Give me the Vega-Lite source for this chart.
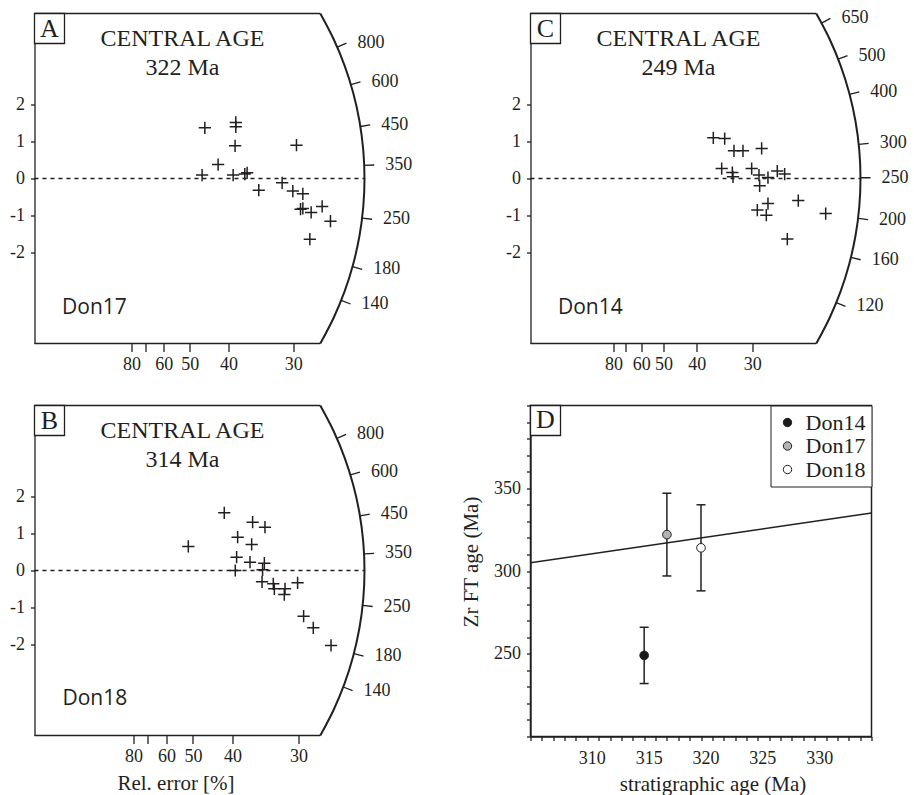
{
  "$schema": "https://vega.github.io/schema/vega-lite/v6.json",
  "background": "white",
  "padding": {"left": 9.5, "top": 8.5, "right": 0, "bottom": 0},
  "columns": 2,
  "spacing": {"row": 62, "column": 166},
  "bounds": "flush",
  "align": "each",
  "resolve": {"legend": {"fill": "independent"}},
  "datasets": {
    "A_pts": [
      {"x": 2.195, "y": 1.37}, {"x": 2.594, "y": 1.514}, {"x": 2.594, "y": 1.397}, {"x": 2.585, "y": 0.884},
      {"x": 3.376, "y": 0.902}, {"x": 2.366, "y": 0.378}, {"x": 2.16, "y": 0.092}, {"x": 2.56, "y": 0.092},
      {"x": 2.74, "y": 0.154}, {"x": 2.71, "y": 0.119}, {"x": 2.89, "y": -0.315}, {"x": 3.191, "y": -0.116},
      {"x": 3.329, "y": -0.341}, {"x": 3.458, "y": -0.414}, {"x": 3.458, "y": -0.81}, {"x": 3.428, "y": -0.828},
      {"x": 3.565, "y": -0.918}, {"x": 3.707, "y": -0.756}, {"x": 3.814, "y": -1.153}, {"x": 3.548, "y": -1.639}
    ],
    "A_arc": [
      {"i": 0, "x": 3.6829, "y": 4.4595}, {"i": 1, "x": 3.8541, "y": 3.7692}, {"i": 2, "x": 3.9961, "y": 3.0505},
      {"i": 3, "x": 4.1076, "y": 2.3084}, {"i": 4, "x": 4.188, "y": 1.5486}, {"i": 5, "x": 4.2363, "y": 0.7773},
      {"i": 6, "x": 4.2526, "y": 0}, {"i": 7, "x": 4.2363, "y": -0.7773}, {"i": 8, "x": 4.188, "y": -1.5486},
      {"i": 9, "x": 4.1076, "y": -2.3084}, {"i": 10, "x": 3.9961, "y": -3.0505}, {"i": 11, "x": 3.8541, "y": -3.7692},
      {"i": 12, "x": 3.6829, "y": -4.4595}
    ],
    "A_ticks": [
      {"age": 800, "x": 3.9012, "y": 3.5503, "x2": 4.0194, "y2": 3.6579},
      {"age": 600, "x": 4.0769, "y": 2.5373, "x2": 4.2004, "y2": 2.6142},
      {"age": 450, "x": 4.1994, "y": 1.4055, "x2": 4.3267, "y2": 1.4481},
      {"age": 350, "x": 4.2492, "y": 0.3543, "x2": 4.378, "y2": 0.3651},
      {"age": 250, "x": 4.222, "y": -1.0685, "x2": 4.3499, "y2": -1.1009},
      {"age": 180, "x": 4.098, "y": -2.3831, "x2": 4.2221, "y2": -2.4554},
      {"age": 140, "x": 3.9524, "y": -3.2917, "x2": 4.0722, "y2": -3.3914}
    ],
    "B_pts": [
      {"x": 2.396, "y": 1.559}, {"x": 1.942, "y": 0.649}, {"x": 2.754, "y": 1.306}, {"x": 2.91, "y": 1.171},
      {"x": 2.565, "y": 0.9}, {"x": 2.742, "y": 0.703}, {"x": 2.552, "y": 0.36}, {"x": 2.721, "y": 0.225},
      {"x": 2.902, "y": 0.198}, {"x": 2.88, "y": 0.018}, {"x": 2.535, "y": 0.0}, {"x": 2.873, "y": -0.306},
      {"x": 3.015, "y": -0.36}, {"x": 3.028, "y": -0.495}, {"x": 3.163, "y": -0.495}, {"x": 3.154, "y": -0.649},
      {"x": 3.322, "y": -0.333}, {"x": 3.398, "y": -1.234}, {"x": 3.52, "y": -1.55}, {"x": 3.744, "y": -2.027}
    ],
    "B_arc": [
      {"i": 0, "x": 3.6085, "y": 4.4595}, {"i": 1, "x": 3.7763, "y": 3.7692}, {"i": 2, "x": 3.9154, "y": 3.0505},
      {"i": 3, "x": 4.0246, "y": 2.3084}, {"i": 4, "x": 4.1034, "y": 1.5486}, {"i": 5, "x": 4.1508, "y": 0.7773},
      {"i": 6, "x": 4.1667, "y": 0}, {"i": 7, "x": 4.1508, "y": -0.7773}, {"i": 8, "x": 4.1034, "y": -1.5486},
      {"i": 9, "x": 4.0246, "y": -2.3084}, {"i": 10, "x": 3.9154, "y": -3.0505}, {"i": 11, "x": 3.7763, "y": -3.7692},
      {"i": 12, "x": 3.6085, "y": -4.4595}
    ],
    "B_ticks": [
      {"age": 800, "x": 3.8182, "y": 3.5708, "x2": 3.9339, "y2": 3.679},
      {"age": 600, "x": 3.9882, "y": 2.5825, "x2": 4.109, "y2": 2.6608},
      {"age": 450, "x": 4.109, "y": 1.4786, "x2": 4.2335, "y2": 1.5234},
      {"age": 350, "x": 4.1613, "y": 0.4517, "x2": 4.2874, "y2": 0.4654},
      {"age": 250, "x": 4.1432, "y": -0.9444, "x2": 4.2688, "y2": -0.973},
      {"age": 180, "x": 4.0327, "y": -2.2439, "x2": 4.1549, "y2": -2.3119},
      {"age": 140, "x": 3.8983, "y": -3.1489, "x2": 4.0164, "y2": -3.2443}
    ],
    "C_pts": [
      {"x": 2.749, "y": 1.1}, {"x": 2.92, "y": 1.081}, {"x": 3.06, "y": 0.749}, {"x": 3.195, "y": 0.749},
      {"x": 3.476, "y": 0.811}, {"x": 2.875, "y": 0.27}, {"x": 3.035, "y": 0.162}, {"x": 3.045, "y": 0.046},
      {"x": 3.326, "y": 0.27}, {"x": 3.436, "y": 0.092}, {"x": 3.571, "y": 0.027}, {"x": 3.711, "y": 0.2},
      {"x": 3.822, "y": 0.119}, {"x": 3.446, "y": -0.197}, {"x": 3.571, "y": -0.676}, {"x": 3.411, "y": -0.854},
      {"x": 3.546, "y": -0.99}, {"x": 4.027, "y": -0.595}, {"x": 4.439, "y": -0.946}, {"x": 3.862, "y": -1.638}
    ],
    "C_arc": [
      {"i": 0, "x": 4.2976, "y": 4.4595}, {"i": 1, "x": 4.4975, "y": 3.7692}, {"i": 2, "x": 4.6632, "y": 3.0505},
      {"i": 3, "x": 4.7932, "y": 2.3084}, {"i": 4, "x": 4.8871, "y": 1.5486}, {"i": 5, "x": 4.9435, "y": 0.7773},
      {"i": 6, "x": 4.9624, "y": 0}, {"i": 7, "x": 4.9435, "y": -0.7773}, {"i": 8, "x": 4.8871, "y": -1.5486},
      {"i": 9, "x": 4.7932, "y": -2.3084}, {"i": 10, "x": 4.6632, "y": -3.0505}, {"i": 11, "x": 4.4975, "y": -3.7692},
      {"i": 12, "x": 4.2976, "y": -4.4595}
    ],
    "C_ticks": [
      {"age": 650, "x": 4.3776, "y": 4.2005, "x2": 4.5103, "y2": 4.3277},
      {"age": 500, "x": 4.6265, "y": 3.2253, "x2": 4.7667, "y2": 3.3231},
      {"age": 400, "x": 4.7983, "y": 2.2744, "x2": 4.9438, "y2": 2.3433},
      {"age": 300, "x": 4.936, "y": 0.9197, "x2": 5.0855, "y2": 0.9476},
      {"age": 250, "x": 4.9624, "y": 0.0199, "x2": 5.1128, "y2": 0.0205},
      {"age": 200, "x": 4.9259, "y": -1.0794, "x2": 5.0752, "y2": -1.1121},
      {"age": 160, "x": 4.8187, "y": -2.1312, "x2": 4.9646, "y2": -2.1958},
      {"age": 120, "x": 4.5977, "y": -3.3563, "x2": 4.7369, "y2": -3.458}
    ],
    "D_pts": [
      {"sample": "Don14", "strat": 315, "age": 249, "lo": 232, "hi": 266},
      {"sample": "Don17", "strat": 317, "age": 322, "lo": 297, "hi": 347},
      {"sample": "Don18", "strat": 320, "age": 314, "lo": 288, "hi": 340}
    ],
    "D_line": [
      {"strat": 305, "age": 305},
      {"strat": 335, "age": 335}
    ]
  },
  "concat": [
    {
      "width": 330, "height": 330,
      "view": {"stroke": null},
      "layer": [
        {
          "data": {"name": "A_pts"},
          "mark": {"type": "point", "shape": "M-1,0L1,0M0,-1L0,1", "size": 150, "filled": false, "strokeWidth": 1.5, "color": "#231f20", "opacity": 1},
          "encoding": {
            "x": {"field": "x", "type": "quantitative", "scale": {"domain": [0, 4.25258], "nice": false, "zero": false},
              "axis": {"title": null, "values": [1.25, 1.428571, 1.666667, 2, 2.5, 3.333333], "tickCount": 50, "labelExpr": "datum.value > 1.4 && datum.value < 1.45 ? '' : format(100 / datum.value, '.0f')", "domain": false, "tickSize": 8, "labelPadding": 4, "labelOverlap": false}},
            "y": {"field": "y", "type": "quantitative", "scale": {"domain": [-4.4595, 4.4595], "nice": false, "zero": false},
              "axis": {"title": null, "values": [-2, -1, 0, 1, 2], "tickCount": 50, "labelExpr": "'' + datum.value", "tickSize": 4, "labelPadding": 6, "labelOverlap": false}}
          }
        },
        {
          "data": {"name": "A_arc"},
          "mark": {"type": "line", "strokeWidth": 2, "color": "#231f20", "interpolate": "catmull-rom"},
          "encoding": {"x": {"field": "x", "type": "quantitative"}, "y": {"field": "y", "type": "quantitative"}, "order": {"field": "i", "type": "quantitative"}}
        },
        {
          "data": {"name": "A_ticks"},
          "mark": {"type": "rule", "strokeWidth": 1.3, "color": "#231f20"},
          "encoding": {"x": {"field": "x", "type": "quantitative"}, "y": {"field": "y", "type": "quantitative"}, "x2": {"field": "x2"}, "y2": {"field": "y2"}}
        },
        {
          "data": {"name": "A_ticks"},
          "mark": {"type": "text", "align": "left", "baseline": "middle", "dx": 11, "fontSize": 18},
          "encoding": {"x": {"field": "x2", "type": "quantitative"}, "y": {"field": "y2", "type": "quantitative"}, "text": {"field": "age", "type": "nominal"}}
        },
        {
          "data": {"values": [{}]},
          "mark": {"type": "rule", "strokeDash": [4, 4], "strokeWidth": 1.3, "color": "#231f20"},
          "encoding": {"x": {"datum": 0}, "x2": {"datum": 4.25258}, "y": {"datum": 0}}
        },
        {
          "data": {"values": [{}]},
          "mark": {"type": "rule", "strokeWidth": 1.3, "color": "#231f20"},
          "encoding": {"x": {"datum": 0}, "x2": {"datum": 3.6829}, "y": {"datum": 4.4595}}
        },
        {
          "data": {"values": [{}]},
          "mark": {"type": "rule", "strokeWidth": 1.3, "color": "#231f20"},
          "encoding": {"x": {"datum": 0}, "x2": {"datum": 3.6829}, "y": {"datum": -4.4595}}
        },
        {
          "data": {"values": [{}]},
          "mark": {"type": "rect", "fill": "white", "stroke": "#231f20", "strokeWidth": 1.3},
          "encoding": {"x": {"datum": 0}, "x2": {"datum": 0.3866}, "y": {"datum": 4.4595}, "y2": {"datum": 3.6487}}
        },
        {
          "data": {"values": [{}]},
          "mark": {"type": "text", "text": "A", "fontSize": 26, "align": "center", "baseline": "middle"},
          "encoding": {"x": {"datum": 0.1933}, "y": {"datum": 4.054}}
        },
        {
          "data": {"values": [{}]},
          "mark": {"type": "text", "text": "CENTRAL AGE", "fontSize": 24, "align": "center", "baseline": "middle"},
          "encoding": {"x": {"datum": 1.9072}, "y": {"datum": 3.7568}}
        },
        {
          "data": {"values": [{}]},
          "mark": {"type": "text", "text": "322 Ma", "fontSize": 24, "align": "center", "baseline": "middle"},
          "encoding": {"x": {"datum": 1.9072}, "y": {"datum": 3.0}}
        },
        {
          "data": {"values": [{}]},
          "mark": {"type": "text", "text": "Don17", "font": "Open Sans", "fontSize": 21, "align": "left", "baseline": "middle"},
          "encoding": {"x": {"datum": 0.3557}, "y": {"datum": -3.495}}
        }
      ]
    },
    {
      "width": 330, "height": 330,
      "view": {"stroke": null},
      "layer": [
        {
          "data": {"name": "C_pts"},
          "mark": {"type": "point", "shape": "M-1,0L1,0M0,-1L0,1", "size": 150, "filled": false, "strokeWidth": 1.5, "color": "#231f20", "opacity": 1},
          "encoding": {
            "x": {"field": "x", "type": "quantitative", "scale": {"domain": [0, 4.96241], "nice": false, "zero": false},
              "axis": {"title": null, "values": [1.25, 1.428571, 1.666667, 2, 2.5, 3.333333], "tickCount": 50, "labelExpr": "datum.value > 1.4 && datum.value < 1.45 ? '' : format(100 / datum.value, '.0f')", "domain": false, "tickSize": 8, "labelPadding": 4, "labelOverlap": false}},
            "y": {"field": "y", "type": "quantitative", "scale": {"domain": [-4.4595, 4.4595], "nice": false, "zero": false},
              "axis": {"title": null, "values": [-2, -1, 0, 1, 2], "tickCount": 50, "labelExpr": "'' + datum.value", "tickSize": 4, "labelPadding": 6, "labelOverlap": false}}
          }
        },
        {
          "data": {"name": "C_arc"},
          "mark": {"type": "line", "strokeWidth": 2, "color": "#231f20", "interpolate": "catmull-rom"},
          "encoding": {"x": {"field": "x", "type": "quantitative"}, "y": {"field": "y", "type": "quantitative"}, "order": {"field": "i", "type": "quantitative"}}
        },
        {
          "data": {"name": "C_ticks"},
          "mark": {"type": "rule", "strokeWidth": 1.3, "color": "#231f20"},
          "encoding": {"x": {"field": "x", "type": "quantitative"}, "y": {"field": "y", "type": "quantitative"}, "x2": {"field": "x2"}, "y2": {"field": "y2"}}
        },
        {
          "data": {"name": "C_ticks"},
          "mark": {"type": "text", "align": "left", "baseline": "middle", "dx": 11, "fontSize": 18},
          "encoding": {"x": {"field": "x2", "type": "quantitative"}, "y": {"field": "y2", "type": "quantitative"}, "text": {"field": "age", "type": "nominal"}}
        },
        {
          "data": {"values": [{}]},
          "mark": {"type": "rule", "strokeDash": [4, 4], "strokeWidth": 1.3, "color": "#231f20"},
          "encoding": {"x": {"datum": 0}, "x2": {"datum": 4.96241}, "y": {"datum": 0}}
        },
        {
          "data": {"values": [{}]},
          "mark": {"type": "rule", "strokeWidth": 1.3, "color": "#231f20"},
          "encoding": {"x": {"datum": 0}, "x2": {"datum": 4.2976}, "y": {"datum": 4.4595}}
        },
        {
          "data": {"values": [{}]},
          "mark": {"type": "rule", "strokeWidth": 1.3, "color": "#231f20"},
          "encoding": {"x": {"datum": 0}, "x2": {"datum": 4.2976}, "y": {"datum": -4.4595}}
        },
        {
          "data": {"values": [{}]},
          "mark": {"type": "rect", "fill": "white", "stroke": "#231f20", "strokeWidth": 1.3},
          "encoding": {"x": {"datum": 0}, "x2": {"datum": 0.4511}, "y": {"datum": 4.4595}, "y2": {"datum": 3.6487}}
        },
        {
          "data": {"values": [{}]},
          "mark": {"type": "text", "text": "C", "fontSize": 26, "align": "center", "baseline": "middle"},
          "encoding": {"x": {"datum": 0.2256}, "y": {"datum": 4.054}}
        },
        {
          "data": {"values": [{}]},
          "mark": {"type": "text", "text": "CENTRAL AGE", "fontSize": 24, "align": "center", "baseline": "middle"},
          "encoding": {"x": {"datum": 2.2256}, "y": {"datum": 3.7568}}
        },
        {
          "data": {"values": [{}]},
          "mark": {"type": "text", "text": "249 Ma", "fontSize": 24, "align": "center", "baseline": "middle"},
          "encoding": {"x": {"datum": 2.2256}, "y": {"datum": 3.0}}
        },
        {
          "data": {"values": [{}]},
          "mark": {"type": "text", "text": "Don14", "font": "Open Sans", "fontSize": 21, "align": "left", "baseline": "middle"},
          "encoding": {"x": {"datum": 0.4135}, "y": {"datum": -3.495}}
        }
      ]
    },
    {
      "width": 330, "height": 330,
      "view": {"stroke": null},
      "layer": [
        {
          "data": {"name": "B_pts"},
          "mark": {"type": "point", "shape": "M-1,0L1,0M0,-1L0,1", "size": 150, "filled": false, "strokeWidth": 1.5, "color": "#231f20", "opacity": 1},
          "encoding": {
            "x": {"field": "x", "type": "quantitative", "scale": {"domain": [0, 4.16667], "nice": false, "zero": false},
              "axis": {"title": "Rel. error [%]", "titleX": 141, "titleY": 48, "titleBaseline": "middle", "values": [1.25, 1.428571, 1.666667, 2, 2.5, 3.333333], "tickCount": 50, "labelExpr": "datum.value > 1.4 && datum.value < 1.45 ? '' : format(100 / datum.value, '.0f')", "domain": false, "tickSize": 8, "labelPadding": 4, "labelOverlap": false}},
            "y": {"field": "y", "type": "quantitative", "scale": {"domain": [-4.4595, 4.4595], "nice": false, "zero": false},
              "axis": {"title": null, "values": [-2, -1, 0, 1, 2], "tickCount": 50, "labelExpr": "'' + datum.value", "tickSize": 4, "labelPadding": 6, "labelOverlap": false}}
          }
        },
        {
          "data": {"name": "B_arc"},
          "mark": {"type": "line", "strokeWidth": 2, "color": "#231f20", "interpolate": "catmull-rom"},
          "encoding": {"x": {"field": "x", "type": "quantitative"}, "y": {"field": "y", "type": "quantitative"}, "order": {"field": "i", "type": "quantitative"}}
        },
        {
          "data": {"name": "B_ticks"},
          "mark": {"type": "rule", "strokeWidth": 1.3, "color": "#231f20"},
          "encoding": {"x": {"field": "x", "type": "quantitative"}, "y": {"field": "y", "type": "quantitative"}, "x2": {"field": "x2"}, "y2": {"field": "y2"}}
        },
        {
          "data": {"name": "B_ticks"},
          "mark": {"type": "text", "align": "left", "baseline": "middle", "dx": 11, "fontSize": 18},
          "encoding": {"x": {"field": "x2", "type": "quantitative"}, "y": {"field": "y2", "type": "quantitative"}, "text": {"field": "age", "type": "nominal"}}
        },
        {
          "data": {"values": [{}]},
          "mark": {"type": "rule", "strokeDash": [4, 4], "strokeWidth": 1.3, "color": "#231f20"},
          "encoding": {"x": {"datum": 0}, "x2": {"datum": 4.16667}, "y": {"datum": 0}}
        },
        {
          "data": {"values": [{}]},
          "mark": {"type": "rule", "strokeWidth": 1.3, "color": "#231f20"},
          "encoding": {"x": {"datum": 0}, "x2": {"datum": 3.6085}, "y": {"datum": 4.4595}}
        },
        {
          "data": {"values": [{}]},
          "mark": {"type": "rule", "strokeWidth": 1.3, "color": "#231f20"},
          "encoding": {"x": {"datum": 0}, "x2": {"datum": 3.6085}, "y": {"datum": -4.4595}}
        },
        {
          "data": {"values": [{}]},
          "mark": {"type": "rect", "fill": "white", "stroke": "#231f20", "strokeWidth": 1.3},
          "encoding": {"x": {"datum": 0}, "x2": {"datum": 0.3788}, "y": {"datum": 4.4595}, "y2": {"datum": 3.6487}}
        },
        {
          "data": {"values": [{}]},
          "mark": {"type": "text", "text": "B", "fontSize": 26, "align": "center", "baseline": "middle"},
          "encoding": {"x": {"datum": 0.1894}, "y": {"datum": 4.054}}
        },
        {
          "data": {"values": [{}]},
          "mark": {"type": "text", "text": "CENTRAL AGE", "fontSize": 24, "align": "center", "baseline": "middle"},
          "encoding": {"x": {"datum": 1.8687}, "y": {"datum": 3.7568}}
        },
        {
          "data": {"values": [{}]},
          "mark": {"type": "text", "text": "314 Ma", "fontSize": 24, "align": "center", "baseline": "middle"},
          "encoding": {"x": {"datum": 1.8687}, "y": {"datum": 3.0}}
        },
        {
          "data": {"values": [{}]},
          "mark": {"type": "text", "text": "Don18", "font": "Open Sans", "fontSize": 21, "align": "left", "baseline": "middle"},
          "encoding": {"x": {"datum": 0.3535}, "y": {"datum": -3.468}}
        }
      ]
    },
    {
      "width": 341, "height": 331,
      "view": {"stroke": "#231f20", "strokeWidth": 1.5},
      "resolve": {"legend": {"fill": "independent"}},
      "layer": [
        {
          "data": {"name": "D_line"},
          "mark": {"type": "line", "strokeWidth": 1.5, "color": "#231f20", "clip": true},
          "encoding": {
            "x": {"field": "strat", "type": "quantitative", "scale": {"domain": [305, 335], "nice": false, "zero": false},
              "axis": {"title": "stratigraphic age (Ma)", "titleX": 182, "titleY": 48, "titleBaseline": "middle",
                "values": [305, 306, 307, 308, 309, 310, 311, 312, 313, 314, 315, 316, 317, 318, 319, 320, 321, 322, 323, 324, 325, 326, 327, 328, 329, 330, 331, 332, 333, 334, 335],
                "tickCount": 100,
                "labelExpr": "datum.value == 310 || datum.value == 315 || datum.value == 320 || datum.value == 325 || datum.value == 330 ? '' + datum.value : ''",
                "tickSize": 4, "labelPadding": 9, "labelOffset": 4.5, "labelOverlap": false}},
            "y": {"field": "age", "type": "quantitative", "scale": {"domain": [200, 400], "nice": false, "zero": false},
              "axis": {"title": "Zr FT age (Ma)", "titleX": -59, "titleY": 156, "titleBaseline": "middle",
                "values": [200, 210, 220, 230, 240, 250, 260, 270, 280, 290, 300, 310, 320, 330, 340, 350, 360, 370, 380, 390, 400],
                "tickCount": 100,
                "labelExpr": "datum.value == 250 || datum.value == 300 || datum.value == 350 ? '' + datum.value : ''",
                "tickSize": 4, "labelPadding": 6, "labelOverlap": false}}
          }
        },
        {
          "data": {"name": "D_pts"},
          "mark": {"type": "rule", "strokeWidth": 1.5, "color": "#231f20"},
          "encoding": {"x": {"field": "strat", "type": "quantitative"}, "y": {"field": "lo", "type": "quantitative"}, "y2": {"field": "hi"}}
        },
        {
          "data": {"name": "D_pts"},
          "mark": {"type": "tick", "orient": "horizontal", "size": 9, "thickness": 1.5, "color": "#231f20", "opacity": 1},
          "encoding": {"x": {"field": "strat", "type": "quantitative"}, "y": {"field": "lo", "type": "quantitative"}}
        },
        {
          "data": {"name": "D_pts"},
          "mark": {"type": "tick", "orient": "horizontal", "size": 9, "thickness": 1.5, "color": "#231f20", "opacity": 1},
          "encoding": {"x": {"field": "strat", "type": "quantitative"}, "y": {"field": "hi", "type": "quantitative"}}
        },
        {
          "data": {"name": "D_pts"},
          "mark": {"type": "point", "shape": "circle", "filled": true, "size": 75, "stroke": "#231f20", "strokeWidth": 1, "opacity": 1},
          "encoding": {
            "x": {"field": "strat", "type": "quantitative"},
            "y": {"field": "age", "type": "quantitative"},
            "fill": {"field": "sample", "type": "nominal",
              "scale": {"domain": ["Don14", "Don17", "Don18"], "range": ["#1a1a1a", "#b3b3b3", "#ffffff"]},
              "legend": {"title": null, "orient": "top-right", "offset": 0, "strokeColor": "#231f20", "fillColor": "white", "padding": 6,
                "labelFont": "Liberation Serif", "labelFontSize": 22, "labelColor": "#231f20", "labelOffset": 7, "rowPadding": 1.5,
                "symbolType": "circle", "symbolSize": 70, "symbolStrokeColor": "#231f20", "symbolStrokeWidth": 1, "symbolOpacity": 1}}
          }
        },
        {
          "data": {"values": [{}]},
          "mark": {"type": "rect", "fill": "white", "stroke": "#231f20", "strokeWidth": 1.3},
          "encoding": {"x": {"datum": 305}, "x2": {"datum": 307.64}, "y": {"datum": 400}, "y2": {"datum": 381.87}}
        },
        {
          "data": {"values": [{}]},
          "mark": {"type": "text", "text": "D", "fontSize": 26, "align": "center", "baseline": "middle"},
          "encoding": {"x": {"datum": 306.32}, "y": {"datum": 390.94}}
        }
      ]
    }
  ],
  "config": {
    "view": {"stroke": null},
    "font": "Liberation Serif",
    "axis": {"grid": false, "labelFont": "Liberation Serif", "labelFontSize": 18, "labelColor": "#231f20", "tickColor": "#231f20", "domainColor": "#231f20", "tickWidth": 1.3, "domainWidth": 1.3, "titleFont": "Liberation Serif", "titleFontSize": 21, "titleFontWeight": "normal", "titleColor": "#231f20", "labelOverlap": false, "labelFlush": false},
    "text": {"font": "Liberation Serif", "color": "#231f20"}
  }
}
